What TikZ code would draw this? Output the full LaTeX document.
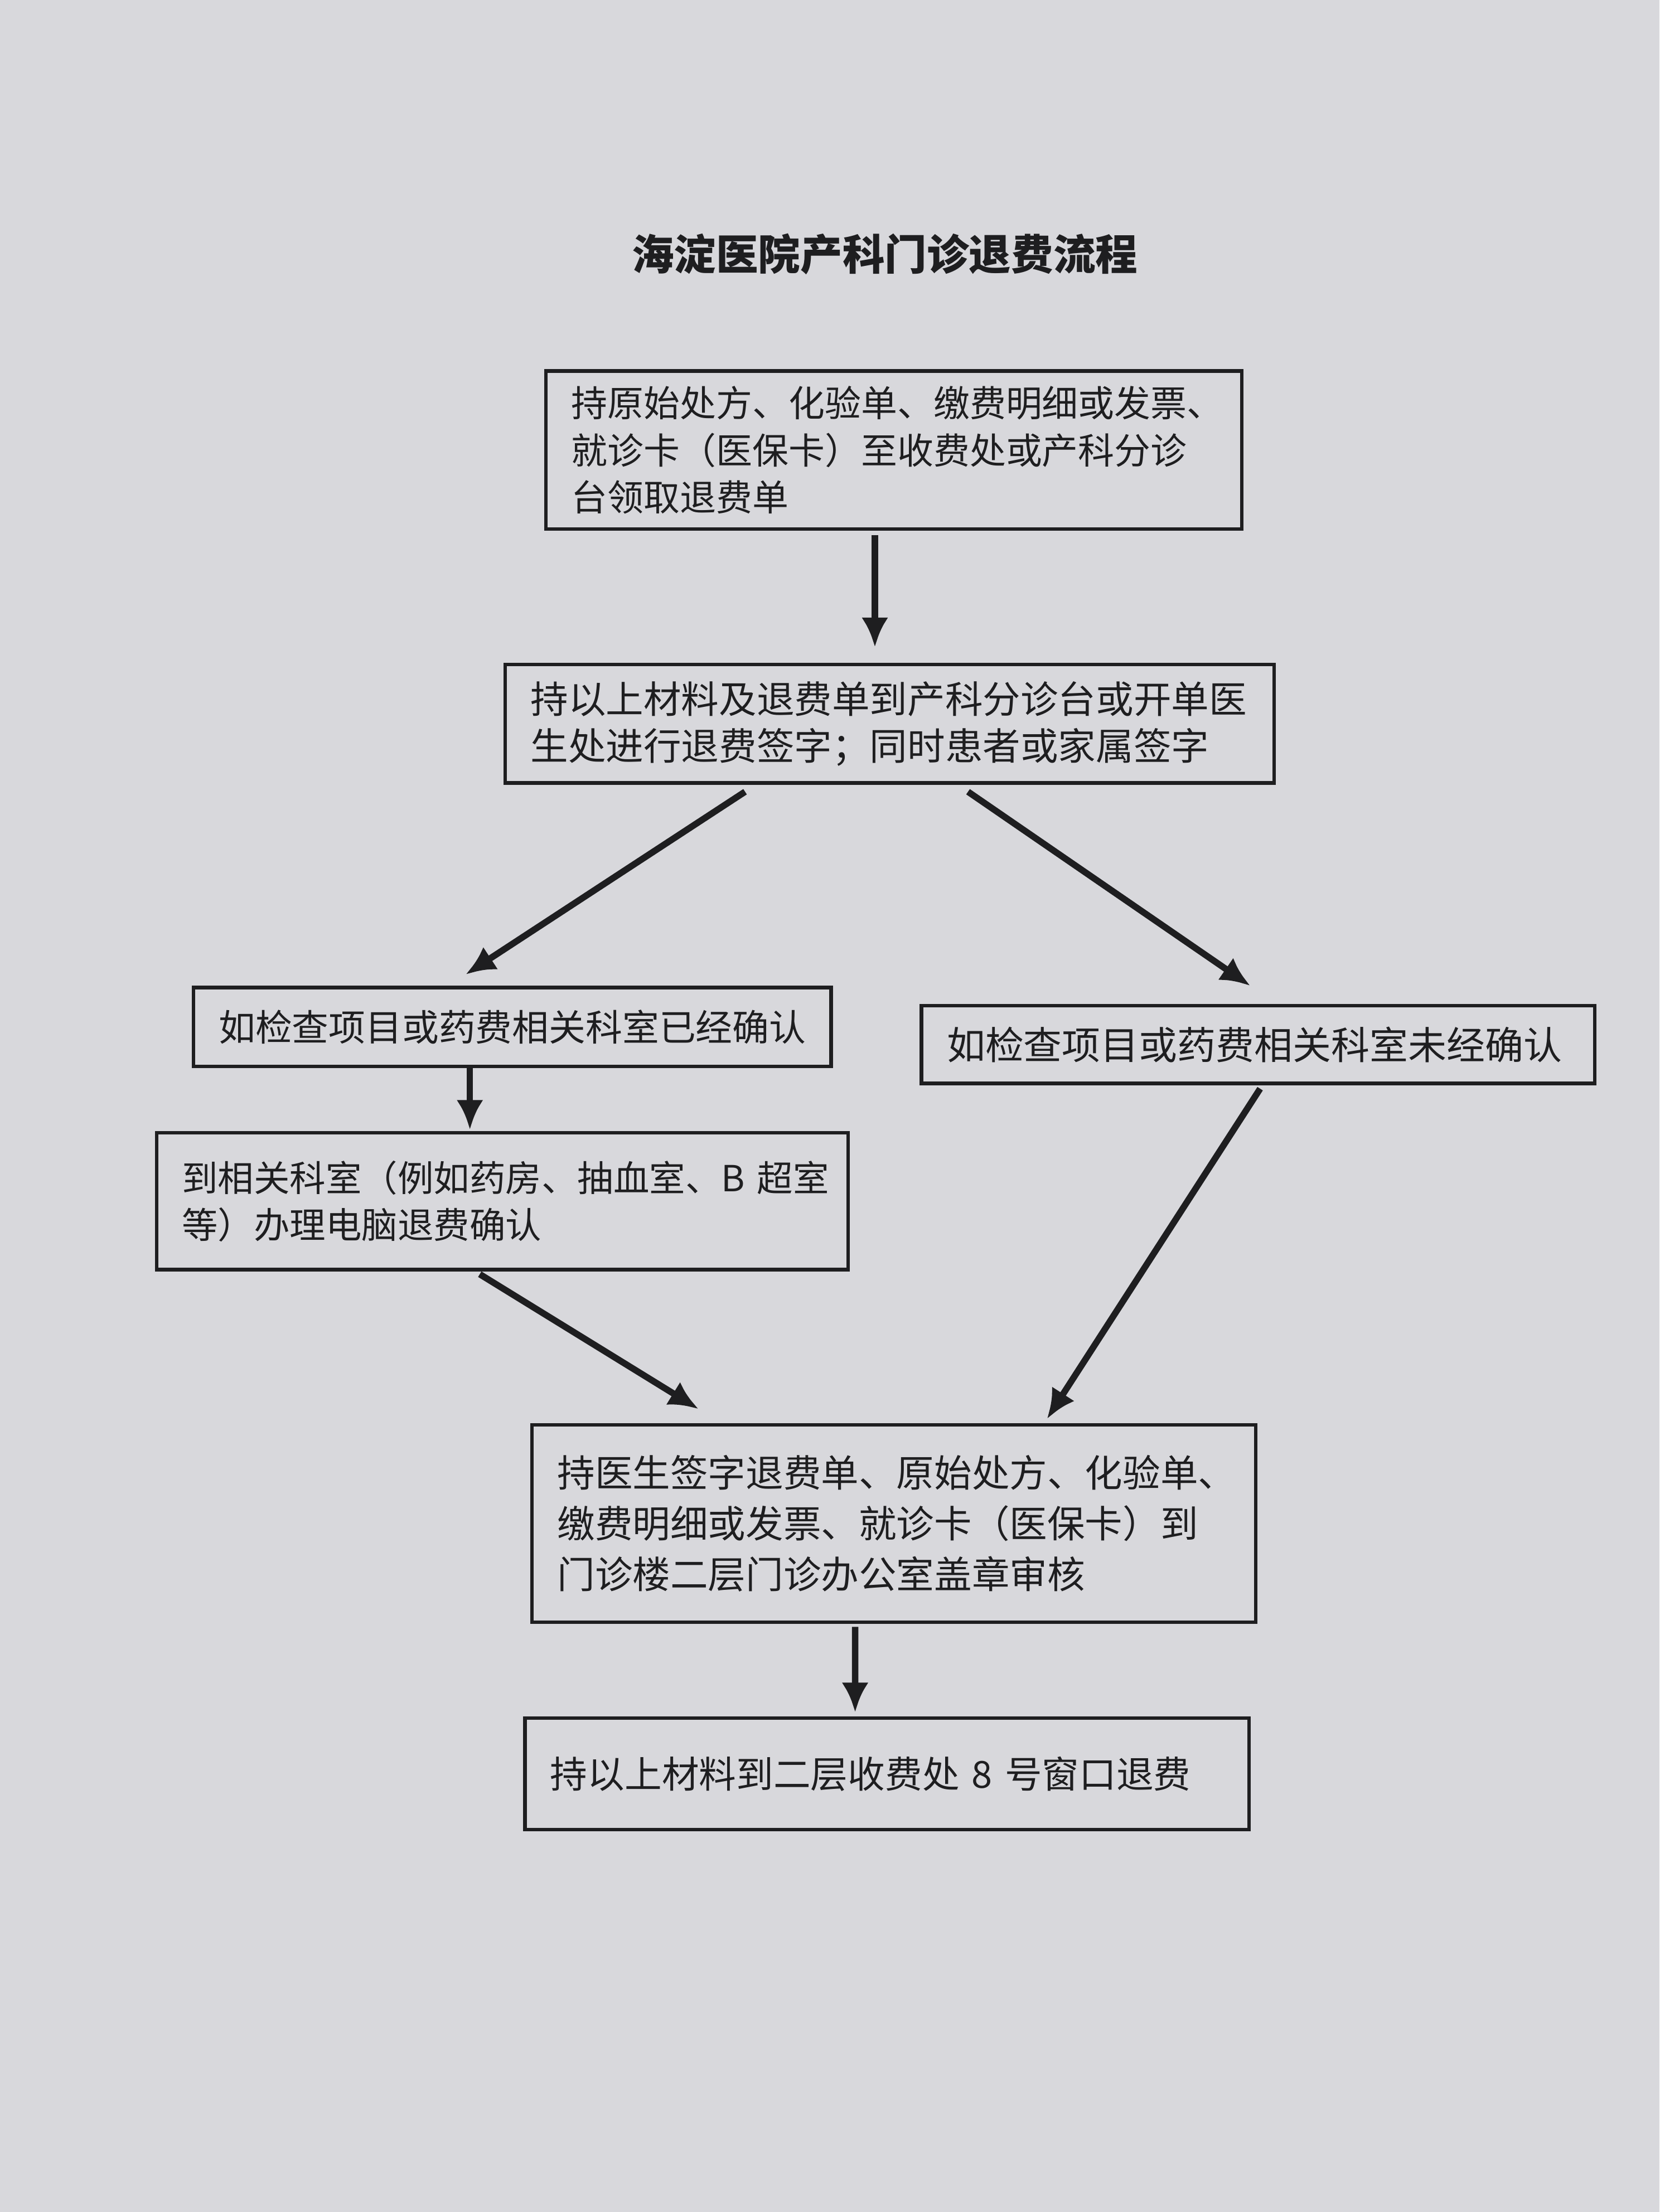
\documentclass[tikz,border=0pt]{standalone}
\usepackage{fontspec}
\usepackage[]{tikz}
\usetikzlibrary{arrows.meta}
\usetikzlibrary{positioning}
\newfontfamily\cjk{Noto Sans CJK SC}
\definecolor{paper}{RGB}{216,216,220}
\definecolor{ink}{RGB}{30,30,32}
\tikzset{procbox/.style = {draw=ink, line width=1.4pt, inner xsep=0.36cm, inner ysep=0, align=left, text=ink, font=\cjk\fontsize{#1}{19pt}\selectfont}, procbox/.default=15pt}
\tikzset{flow/.style = {draw=ink, line width=2.6pt, -{Latex[length=0.42cm,width=0.38cm]}}}

\begin{document}
\begin{tikzpicture}
        \fill [paper] (0,0) rectangle (23.52,-31.36);
        \useasboundingbox (0,0) rectangle (23.52,-31.36);
        \node [text=ink, font=\cjk\bfseries\fontsize{17pt}{20pt}\selectfont] (title) at (12.54,-3.6) {海淀医院产科门诊退费流程};
        \node [procbox=14.6pt, text width=9.14cm, minimum height=2.24cm] (start) at (12.67,-6.38) {持原始处方、化验单、缴费明细或发票、\\就诊卡（医保卡）至收费处或产科分诊\\台领取退费单};
        \node [procbox=15.2pt, text width=10.18cm, minimum height=1.68cm] (sign) at (12.61,-10.26) {持以上材料及退费单到产科分诊台或开单医\\生处进行退费签字；同时患者或家属签字};
        \node [procbox=14.8pt, text width=8.32cm, minimum height=1.12cm] (done) at (7.26,-14.56) {如检查项目或药费相关科室已经确认};
        \node [procbox=15.5pt, text width=8.82cm, minimum height=1.10cm] (undone) at (17.83,-14.81) {如检查项目或药费相关科室未经确认};
        \node [procbox=14.5pt, text width=9.08cm, minimum height=1.94cm] (dept) at (7.12,-17.03) {到相关科室（例如药房、抽血室、B~超室\\等）办理电脑退费确认};
        \node [procbox, font=\cjk\fontsize{15.2pt}{20.5pt}\selectfont, text width=9.54cm, minimum height=2.8cm] (stamp) at (12.67,-21.6) {持医生签字退费单、原始处方、化验单、\\缴费明细或发票、就诊卡（医保卡）到\\门诊楼二层门诊办公室盖章审核};
        \node [procbox, text width=9.54cm, minimum height=1.58cm] (refund) at (12.57,-25.15) {持以上材料到二层收费处~8~号窗口退费};
        \draw [flow] ([xshift=-0.27cm,yshift=-0.06cm]start.south) -- ([xshift=-0.21cm,yshift=0.22cm]sign.north);
        \draw [flow] ([xshift=-2.05cm,yshift=-0.1cm]sign.south) -- ([xshift=-0.66cm,yshift=0.16cm]done.north);
        \draw [flow] ([xshift=1.11cm,yshift=-0.1cm]sign.south) -- ([xshift=-0.11cm,yshift=0.26cm]undone.north);
        \draw [flow] ([xshift=-0.6cm]done.south) -- ([xshift=-0.46cm,yshift=0.02cm]dept.north);
        \draw [flow] ([xshift=-0.32cm,yshift=-0.04cm]dept.south) -- ([xshift=-2.77cm,yshift=0.2cm]stamp.north);
        \draw [flow] ([xshift=0.03cm,yshift=-0.05cm]undone.south) -- ([xshift=2.17cm,yshift=0.06cm]stamp.north);
        \draw [flow] ([xshift=-0.55cm,yshift=-0.04cm]stamp.south) -- ([xshift=-0.45cm,yshift=0.06cm]refund.north);
    \end{tikzpicture}
\end{document}
